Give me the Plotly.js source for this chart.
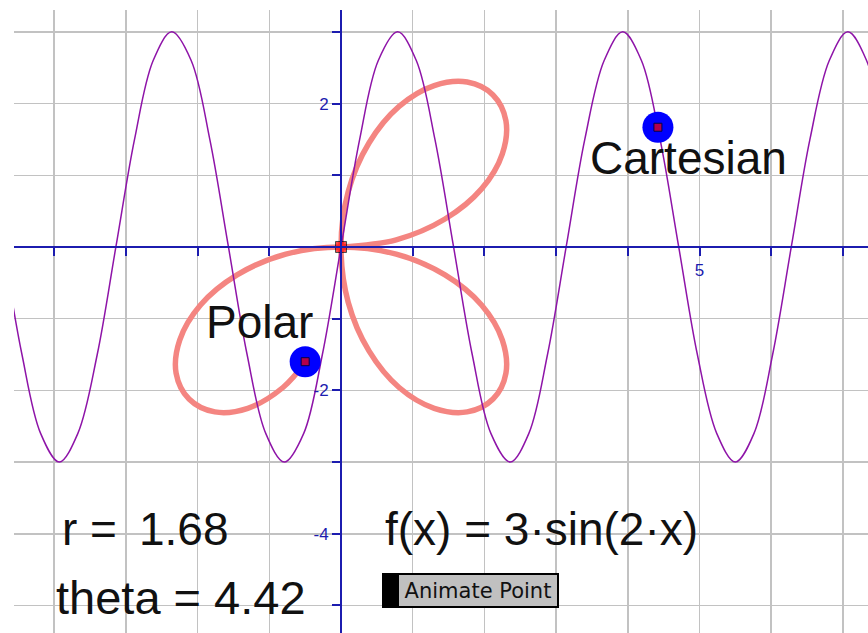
<!DOCTYPE html>
<html>
<head>
<meta charset="utf-8">
<script src="https://cdn.plot.ly/plotly-3.0.1.min.js"></script>
<style>
  html, body { margin: 0; padding: 0; background: #ffffff; }
  #plot { width: 868px; height: 633px; }
</style>
</head>
<body>
<div id="plot"></div>
<script>
// f(x) = 3 sin(2x), every pi/12
const sineX = [-4.71, -4.45, -4.19, -3.93, -3.67, -3.40, -3.14, -2.88, -2.62, -2.36, -2.09, -1.83,
    -1.57, -1.31, -1.05, -0.79, -0.52, -0.26, 0, 0.26, 0.52, 0.79, 1.05, 1.31,
    1.57, 1.83, 2.09, 2.36, 2.62, 2.88, 3.14, 3.40, 3.67, 3.93, 4.19, 4.45,
    4.71, 4.97, 5.24, 5.50, 5.76, 6.02, 6.28, 6.54, 6.81, 7.07, 7.33, 7.59];
const sineY = [0, -1.5, -2.6, -3, -2.6, -1.5, 0, 1.5, 2.6, 3, 2.6, 1.5,
    0, -1.5, -2.6, -3, -2.6, -1.5, 0, 1.5, 2.6, 3, 2.6, 1.5,
    0, -1.5, -2.6, -3, -2.6, -1.5, 0, 1.5, 2.6, 3, 2.6, 1.5,
    0, -1.5, -2.6, -3, -2.6, -1.5, 0, 1.5, 2.6, 3, 2.6, 1.5];

// polar rose traced from theta = 0 up to theta = 4.42
const roseX = [0, 0.77, 1.45, 1.96, 2.25, 2.30, 2.12, 1.76, 1.30, 0.81, 0.39, 0.10,
    0, 0.10, 0.39, 0.81, 1.30, 1.76, 2.12, 2.30, 2.25, 1.96, 1.45, 0.77,
    0, -0.77, -1.45, -1.96, -2.25, -2.30, -2.12, -1.76, -1.30, -0.81, -0.49];
const roseY = [0, 0.10, 0.39, 0.81, 1.30, 1.76, 2.12, 2.30, 2.25, 1.96, 1.45, 0.77,
    0, -0.77, -1.45, -1.96, -2.25, -2.30, -2.12, -1.76, -1.30, -0.81, -0.39, -0.10,
    0, -0.10, -0.39, -0.81, -1.30, -1.76, -2.12, -2.30, -2.25, -1.96, -1.60];

// the two moving points (cartesian, polar) and the pole
const pointX = [4.42, -0.50];
const pointY = [1.67, -1.60];
const poleX = [0];
const poleY = [0];

const rValue = 1.68;
const thetaValue = 4.42;

// ticks (none at the origin)
const xTickVals = [-4, -3, -2, -1, 1, 2, 3, 4, 5, 6, 7];
const xTickText = ['', '', '', '', '', '', '', '', '5', '', ''];
const yTickVals = [-5, -4, -3, -2, -1, 1, 2, 3];
const yTickText = ['', '-4', '', '-2', '', '', '2', ''];

// view window
const xRange = [-4.561, 7.350];
const yRange = [-5.384, 3.305];

const axisBlue = 'rgb(28,28,175)';
const gridGray = '#c2c2c2';
const textFont = 'Liberation Sans, Arial, sans-serif';

function draw() {
    const xPos = (0 - yRange[0]) / (yRange[1] - yRange[0]);
    const yPos = (0 - xRange[0]) / (xRange[1] - xRange[0]);

    const roseTrace = {
        x: roseX, y: roseY, mode: 'lines', type: 'scatter', hoverinfo: 'skip',
        line: { color: '#f48581', width: 5.5, shape: 'spline', smoothing: 1 }
    };
    const sineTrace = {
        x: sineX, y: sineY, mode: 'lines', type: 'scatter', hoverinfo: 'skip',
        line: { color: '#8e14a8', width: 1.5, shape: 'spline', smoothing: 1 }
    };
    const discTrace = {
        x: pointX, y: pointY, mode: 'markers', type: 'scatter',
        marker: { color: '#0000ff', size: 31 }
    };
    const centreTrace = {
        x: pointX.concat(poleX), y: pointY.concat(poleY), mode: 'markers', type: 'scatter',
        marker: { color: '#ff0000', size: [8, 8, 11], symbol: 'square', line: { color: '#000000', width: 1 } }
    };

    const bigText = { family: textFont, size: 46, color: '#111111' };

    const layout = {
        width: 868,
        height: 633,
        margin: { l: 14, r: 0, t: 10, b: 0 },
        paper_bgcolor: '#ffffff',
        plot_bgcolor: '#ffffff',
        showlegend: false,
        xaxis: {
            range: xRange, tickvals: xTickVals, ticktext: xTickText,
            showgrid: true, gridcolor: gridGray, gridwidth: 1.5, zeroline: false,
            showline: true, linecolor: axisBlue, linewidth: 2,
            anchor: 'free', position: xPos,
            ticks: 'outside', ticklen: 8, tickwidth: 2, tickcolor: axisBlue,
            tickfont: { family: textFont, size: 17, color: axisBlue }
        },
        xaxis2: {
            range: xRange, tickvals: xTickVals, overlaying: 'x', side: 'top',
            anchor: 'free', position: xPos, showgrid: false, zeroline: false,
            showline: false, showticklabels: false,
            ticks: 'outside', ticklen: 8, tickwidth: 2, tickcolor: axisBlue
        },
        yaxis: {
            range: yRange, tickvals: yTickVals, ticktext: yTickText,
            showgrid: true, gridcolor: gridGray, gridwidth: 1.5, zeroline: false,
            showline: true, linecolor: axisBlue, linewidth: 2,
            anchor: 'free', position: yPos,
            ticks: 'outside', ticklen: 8, tickwidth: 2, tickcolor: axisBlue,
            tickfont: { family: textFont, size: 17, color: axisBlue }
        },
        yaxis2: {
            range: yRange, tickvals: yTickVals, overlaying: 'y', side: 'right',
            anchor: 'free', position: yPos, showgrid: false, zeroline: false,
            showline: false, showticklabels: false,
            ticks: 'outside', ticklen: 8, tickwidth: 2, tickcolor: axisBlue
        },
        annotations: [
            { text: 'Cartesian', x: 3.45, y: 1.24, xanchor: 'left', yanchor: 'middle', showarrow: false, font: bigText },
            { text: 'Polar', x: -1.91, y: -1.05, xanchor: 'left', yanchor: 'middle', showarrow: false, font: bigText },
            { text: 'r = \u2009' + rValue.toFixed(2), x: -3.92, y: -3.93, xanchor: 'left', yanchor: 'middle', showarrow: false, font: bigText },
            { text: 'theta = ' + thetaValue.toFixed(2), x: -4.00, y: -4.89, xanchor: 'left', yanchor: 'middle', showarrow: false,
              font: { family: textFont, size: 47, color: '#111111' } },
            { text: 'f(x) = 3\u00b7sin(2\u00b7x)', x: 0.59, y: -3.93, xanchor: 'left', yanchor: 'middle', showarrow: false, font: bigText },
            // the button
            { text: '', x: 0.78, y: -4.79, xanchor: 'right', yanchor: 'middle', showarrow: false,
              width: 11, height: 31, bgcolor: '#000000', bordercolor: '#000000', borderwidth: 2, borderpad: 0 },
            { text: 'Animate Point', x: 0.78, y: -4.79, xanchor: 'left', yanchor: 'middle', showarrow: false,
              width: 158, height: 31, align: 'center', bgcolor: '#c0c0c0', bordercolor: '#000000', borderwidth: 2, borderpad: 0,
              font: { family: 'DejaVu Sans, sans-serif', size: 21, color: '#111111' } }
        ]
    };

    Plotly.newPlot('plot', [roseTrace, sineTrace, discTrace, centreTrace], layout, { staticPlot: true });
}

draw();
</script>
</body>
</html>
